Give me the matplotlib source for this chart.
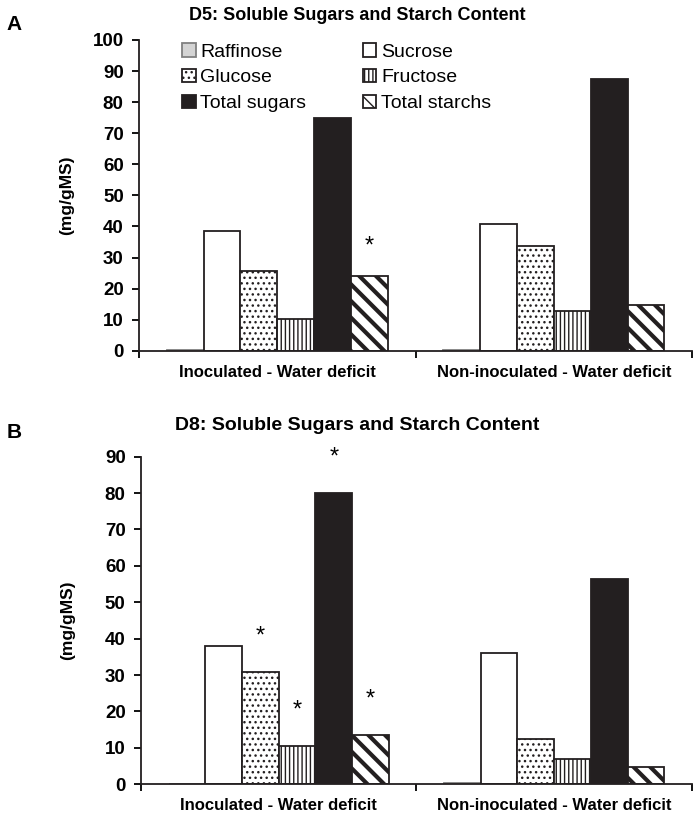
import numpy as np
import matplotlib
matplotlib.use("Agg")
import matplotlib.pyplot as plt

plt.rcParams['font.family'] = ['Liberation Sans', 'DejaVu Sans']

# Data (mg/gMS)
groups = ['Inoculated - Water deficit', 'Non-inoculated - Water deficit']
series = ['Raffinose', 'Sucrose', 'Glucose', 'Fructose', 'Total sugars', 'Total starchs']

d5_inoc = [0.3, 38.6, 25.6, 10.2, 74.8, 24.1]
d5_noninoc = [0.2, 40.9, 33.6, 12.7, 87.3, 14.8]
d8_inoc = [0.1, 38.0, 30.8, 10.5, 80.0, 13.5]
d8_noninoc = [0.45, 36.2, 12.4, 6.9, 56.4, 4.8]

# significance marks: (group, series index)
d5_stars = [(0, 5)]
d8_stars = [(0, 2), (0, 3), (0, 4), (0, 5)]

styles = {
    'Raffinose': dict(facecolor='#d4d4d4', edgecolor='#808080', hatch=None),
    'Sucrose': dict(facecolor='white', edgecolor='#231f20', hatch=None),
    'Glucose': dict(facecolor='white', edgecolor='#231f20', hatch='...'),
    'Fructose': dict(facecolor='white', edgecolor='#231f20', hatch='||||'),
    'Total sugars': dict(facecolor='#231f20', edgecolor='#231f20', hatch=None),
    'Total starchs': dict(facecolor='white', edgecolor='#231f20', hatch='\\\\'),
}

fig = plt.figure(figsize=(7, 8.13), dpi=100)
axA = fig.add_axes([0.1986, 0.5686, 0.79, 0.3822])
axB = fig.add_axes([0.2014, 0.0353, 0.787, 0.403])


def draw(ax, vals, stars, ymax, star_gap):
    x = np.arange(len(groups))
    w = 0.8 / len(series)
    handles = []
    for i, s in enumerate(series):
        st = styles[s]
        heights = [vals[0][i], vals[1][i]]
        bars = ax.bar(x - 0.4 + w * (i + 0.5), heights, w, label=s,
                      facecolor=st['facecolor'], edgecolor=st['edgecolor'],
                      hatch=st['hatch'], linewidth=1.3)
        for b in bars:
            if hasattr(b, 'set_hatch_linewidth'):
                b.set_hatch_linewidth(3.0 if s == 'Total starchs' else 1.0)
        handles.append(bars)
    for g, i in stars:
        ax.text(x[g] - 0.4 + w * (i + 0.5), vals[g][i] + star_gap, '*',
                ha='center', va='center', fontsize=17)
    ax.set_xlim(-0.5, 1.5)
    ax.set_ylim(0, ymax)
    ax.set_yticks(np.arange(0, ymax + 1, 10))
    ax.set_xticks(x)
    ax.set_xticklabels(groups, fontsize=12, fontweight='bold')
    ax.set_xticks([-0.5, 0.5, 1.5], minor=True)
    ax.tick_params(axis='x', which='major', length=0, pad=10)
    ax.tick_params(axis='x', which='minor', length=5, width=1.3, direction='out')
    ax.tick_params(axis='y', length=5, width=1.3, direction='out', labelsize=13.5, pad=6)
    for lab in ax.get_yticklabels():
        lab.set_fontweight('bold')
    for sp in ['top', 'right']:
        ax.spines[sp].set_visible(False)
    for sp in ['left', 'bottom']:
        ax.spines[sp].set_linewidth(1.3)
        ax.spines[sp].set_color('#231f20')
    return handles


hA = draw(axA, [d5_inoc, d5_noninoc], d5_stars, 100, 9.3)
hB = draw(axB, [d8_inoc, d8_noninoc], d8_stars, 90, 9.8)

axA.set_ylabel('(mg/gMS)', fontsize=12.5, fontweight='bold')
axA.yaxis.set_label_coords(-0.117, 0.5)
axB.set_ylabel('(mg/gMS)', fontsize=12.5, fontweight='bold')
axB.yaxis.set_label_coords(-0.119, 0.5)

order = [0, 2, 4, 1, 3, 5]
leg = axA.legend([hA[k] for k in order], [series[k] for k in order], ncol=2,
                 loc='upper left', bbox_to_anchor=(0.26, 0.947),
                 bbox_transform=fig.transFigure, frameon=False, fontsize=14,
                 handlelength=0.7, handleheight=0.7, handletextpad=0.25,
                 labelspacing=0.42, columnspacing=2.9, borderpad=0, borderaxespad=0)

fig.text(0.51, 1 - 15 / 813, 'D5: Soluble Sugars and Starch Content',
         ha='center', va='center', fontsize=13, fontweight='bold')
fig.text(0.51, 1 - 425 / 813, 'D8: Soluble Sugars and Starch Content',
         ha='center', va='center', fontsize=14, fontweight='bold')
fig.text(0.02, 1 - 24 / 813, 'A', ha='center', va='center', fontsize=15, fontweight='bold')
fig.text(0.02, 1 - 432 / 813, 'B', ha='center', va='center', fontsize=15, fontweight='bold')

fig.savefig('out.png', dpi=100)
